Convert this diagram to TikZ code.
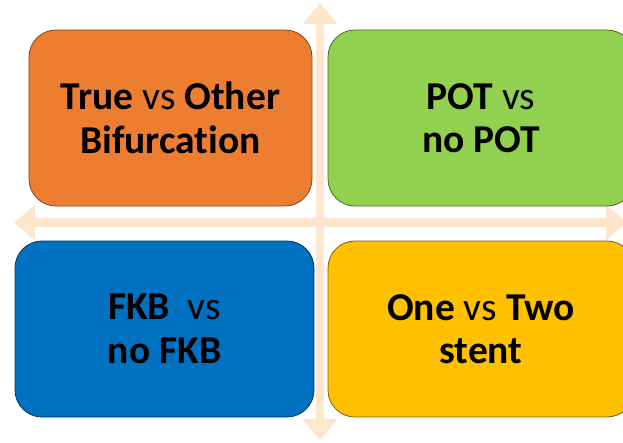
\documentclass[tikz,border=0pt]{standalone}
\usepackage{fontspec}
\setmainfont[Ligatures={NoCommon}]{Carlito}
\usetikzlibrary{arrows.meta}
\definecolor{peach}{HTML}{FDE6CC}
\definecolor{orangeC}{HTML}{ED7D31}
\definecolor{greenC}{HTML}{92D050}
\definecolor{blueC}{HTML}{0070C0}
\definecolor{yellowC}{HTML}{FFC000}
\tikzset{
  quad/.style={rounded corners=27pt, line width=0.8pt, inner sep=0pt,
    align=center, text=black,
    font=\fontsize{39.5}{43.5}\selectfont\bfseries},
  axis/.style={draw=peach, line width=8.5pt,
    {Triangle[width=34pt,length=21pt]}-{Triangle[width=34pt,length=21pt]}},
}
\newcommand{\vsword}{{\mdseries vs}}
\begin{document}
\begin{tikzpicture}[x=1pt,y=-1pt]
\useasboundingbox (0,0) rectangle (623,442);
\coordinate (vtop) at (320,3);
\coordinate (vbot) at (320,440);
\coordinate (hleft) at (14,222.5);
\coordinate (hright) at (627,222.5);
\draw[axis] (vtop) -- (vbot);
\draw[axis] (hleft) -- (hright);
\node[quad, fill=orangeC, draw=orangeC!55!black, minimum width=283pt, minimum height=176pt] (tl) at (170.5,118) {True \vsword{} Other\\Bifurcation};
\node[quad, fill=greenC, draw=greenC!50!black, minimum width=306pt, minimum height=176pt] (tr) at (481,118) {POT \vsword\\no POT};
\node[quad, fill=blueC, draw=blueC!50!black, minimum width=299pt, minimum height=176pt] (bl) at (164.5,329) {FKB\ \ \vsword\\no FKB};
\node[quad, fill=yellowC, draw=yellowC!50!black, minimum width=306pt, minimum height=176pt] (br) at (481,329) {One \vsword{} Two\\stent};
\end{tikzpicture}
\end{document}
